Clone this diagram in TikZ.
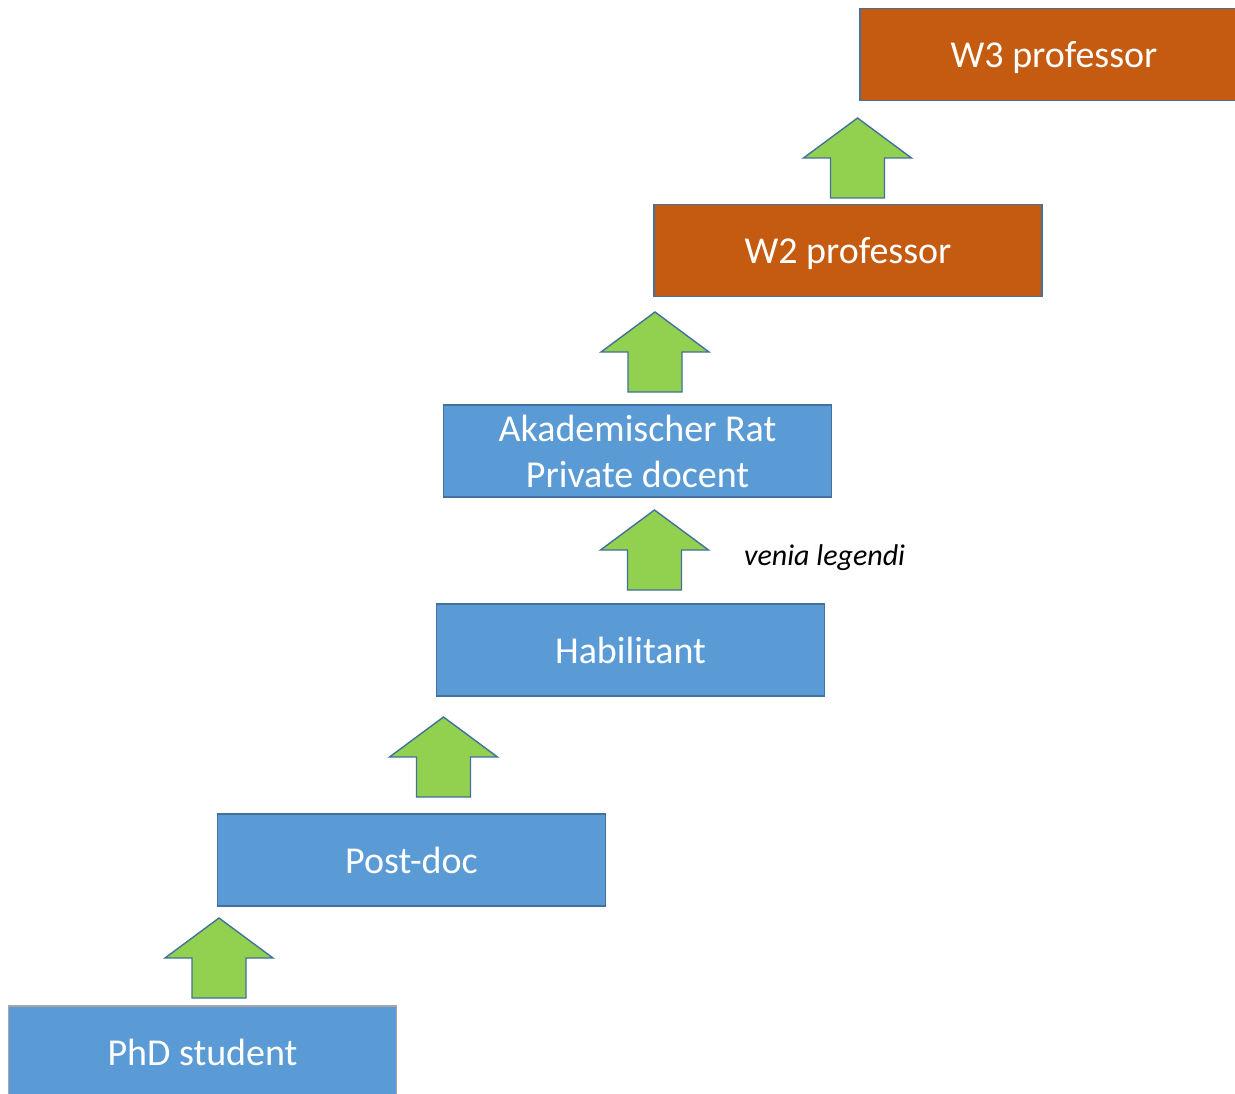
\documentclass[tikz,border=0pt]{standalone}
\usepackage{fontspec}
\setmainfont{Carlito}
\definecolor{stepblue}{HTML}{5B9BD5}
\definecolor{stepedge}{HTML}{41719C}
\definecolor{profor}{HTML}{C55A11}
\definecolor{upgreen}{HTML}{92D050}
\begin{document}
\begin{tikzpicture}[x=1pt,y=-1pt,
  stage/.style={draw=stepedge, line width=1.6pt, fill=stepblue, text=white,
    minimum width=388pt, minimum height=92pt, inner sep=0pt,
    font=\fontsize{38}{46}\selectfont, align=center, text depth=0pt},
  prof/.style={stage, fill=profor},
  uparrow/.style={draw=stepedge, line width=1.4pt, fill=upgreen, line join=miter}
]
\useasboundingbox (0,0) rectangle (1235,1094);
\clip (0,0) rectangle (1235,1094);

% career stages
\node[stage, draw=black!35] (phd) at (202.5,1052) {PhD student};
\node[stage] (postdoc) at (411.5,860) {Post-doc};
\node[stage] (habil) at (630.5,650) {Habilitant};
\node[stage, text depth=] (rat) at (637.5,451) {Akademischer Rat\\Private docent};
\node[prof] (wtwo) at (848,250.5) {W2 professor};
\node[prof] (wthree) at (1054,54.5) {W3 professor};

% block arrows between stages (tip at the origin of each scope)
\newcommand\stepup[2]{%
  \begin{scope}[shift={(#1,#2)}]
    \draw[uparrow] (0,0) -- (54,40) -- (27,40) -- (27,80) -- (-27,80) -- (-27,40) -- (-54,40) -- cycle;
  \end{scope}}
\stepup{219}{918}
\stepup{443.5}{717}
\stepup{654.5}{510}
\stepup{655}{312}
\stepup{857.5}{118}

\node[font=\itshape\fontsize{30}{36}\selectfont, anchor=west, inner sep=0pt] (venia) at (744,558) {venia legendi};
\end{tikzpicture}
\end{document}
